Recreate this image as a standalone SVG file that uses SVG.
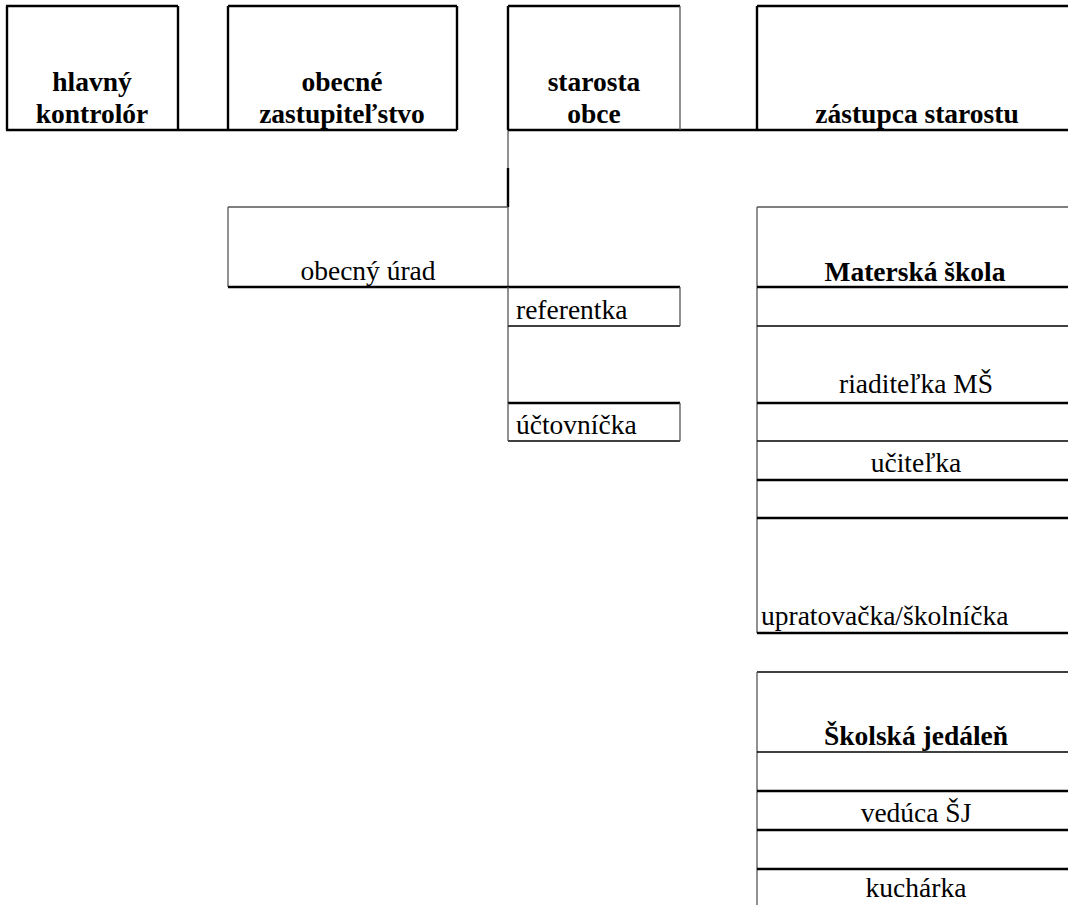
<svg xmlns="http://www.w3.org/2000/svg" width="1068" height="905" viewBox="0 0 1068 905">
<style>
text{font-family:'Liberation Serif','Times New Roman',Times,serif;font-size:27.5px;fill:#000}
.b{font-weight:bold}
.m{text-anchor:middle}
.k{stroke:#000;stroke-width:2.4;fill:none}
.t{stroke:#000;stroke-width:1.3;fill:none}
.g{stroke:#555;stroke-width:1.3;fill:none}
</style>
<rect width="1068" height="905" fill="#fff"/>
<g id="connectors">
<line class="k" x1="178" y1="130" x2="228" y2="130"/>
<line class="k" x1="680" y1="130" x2="757" y2="130"/>
<line class="g" x1="508" y1="130" x2="508" y2="168"/>
<line class="k" x1="508" y1="168" x2="508" y2="207"/>
<line class="g" x1="508" y1="326" x2="508" y2="403"/>
</g>
<g id="hlavny-kontrolor">
<line class="k" x1="6" y1="6" x2="178" y2="6"/>
<line class="k" x1="6" y1="130" x2="178" y2="130"/>
<line class="k" x1="7" y1="6" x2="7" y2="130"/>
<line class="k" x1="178" y1="6" x2="178" y2="130"/>
<text class="b m" x="92" y="91">hlavný</text>
<text class="b m" x="92" y="123">kontrolór</text>
</g>
<g id="obecne-zastupitelstvo">
<line class="k" x1="228" y1="6" x2="457" y2="6"/>
<line class="k" x1="228" y1="130" x2="457" y2="130"/>
<line class="k" x1="228" y1="6" x2="228" y2="130"/>
<line class="k" x1="457" y1="6" x2="457" y2="130"/>
<text class="b m" x="342" y="91">obecné</text>
<text class="b m" x="342" y="123">zastupiteľstvo</text>
</g>
<g id="starosta-obce">
<line class="k" x1="508" y1="6" x2="680" y2="6"/>
<line class="k" x1="508" y1="130" x2="680" y2="130"/>
<line class="k" x1="508" y1="6" x2="508" y2="130"/>
<line class="g" x1="680" y1="6" x2="680" y2="130"/>
<text class="b m" x="594" y="91">starosta</text>
<text class="b m" x="594" y="123">obce</text>
</g>
<g id="zastupca-starostu">
<line class="k" x1="757" y1="6" x2="1068" y2="6"/>
<line class="k" x1="757" y1="130" x2="1068" y2="130"/>
<line class="k" x1="757" y1="6" x2="757" y2="130"/>
<text class="b m" x="917" y="123">zástupca starostu</text>
</g>
<g id="obecny-urad">
<line class="g" x1="228" y1="207" x2="508" y2="207"/>
<line class="g" x1="228" y1="207" x2="228" y2="287"/>
<line class="g" x1="508" y1="207" x2="508" y2="287"/>
<line class="k" x1="228" y1="287" x2="508" y2="287"/>
<text class="m" x="368" y="280">obecný úrad</text>
</g>
<g id="referentka">
<line class="k" x1="508" y1="287" x2="680" y2="287"/>
<line class="t" x1="508" y1="326" x2="680" y2="326"/>
<line class="g" x1="508" y1="287" x2="508" y2="326"/>
<line class="g" x1="680" y1="287" x2="680" y2="326"/>
<text x="516" y="319">referentka</text>
</g>
<g id="uctovnicka">
<line class="k" x1="508" y1="403" x2="680" y2="403"/>
<line class="t" x1="508" y1="441" x2="680" y2="441"/>
<line class="g" x1="508" y1="403" x2="508" y2="441"/>
<line class="g" x1="680" y1="403" x2="680" y2="441"/>
<text x="516" y="434">účtovníčka</text>
</g>
<g id="materska-skola">
<line class="g" x1="757" y1="207" x2="1068" y2="207"/>
<line class="g" x1="757" y1="207" x2="757" y2="633"/>
<line class="k" x1="757" y1="287" x2="1068" y2="287"/>
<line class="t" x1="757" y1="326" x2="1068" y2="326"/>
<text class="b m" x="915" y="281">Materská škola</text>
</g>
<g id="riaditelka-ms">
<line class="k" x1="757" y1="403" x2="1068" y2="403"/>
<text class="m" x="916" y="393">riaditeľka MŠ</text>
</g>
<g id="ucitelka">
<line class="t" x1="757" y1="441" x2="1068" y2="441"/>
<line class="k" x1="757" y1="480" x2="1068" y2="480"/>
<text class="m" x="916" y="472">učiteľka</text>
</g>
<g id="upratovacka">
<line class="k" x1="757" y1="518" x2="1068" y2="518"/>
<line class="k" x1="757" y1="633" x2="1068" y2="633"/>
<text x="761" y="625">upratovačka/školníčka</text>
</g>
<g id="skolska-jedalen">
<line class="t" x1="757" y1="672" x2="1068" y2="672"/>
<line class="g" x1="757" y1="672" x2="757" y2="905"/>
<line class="t" x1="757" y1="752" x2="1068" y2="752"/>
<text class="b m" x="916" y="745">Školská jedáleň</text>
</g>
<g id="veduca-sj">
<line class="k" x1="757" y1="791" x2="1068" y2="791"/>
<line class="k" x1="757" y1="830" x2="1068" y2="830"/>
<text class="m" x="916" y="822">vedúca ŠJ</text>
</g>
<g id="kucharka">
<line class="k" x1="757" y1="869" x2="1068" y2="869"/>
<text class="m" x="916" y="897">kuchárka</text>
</g>
</svg>
